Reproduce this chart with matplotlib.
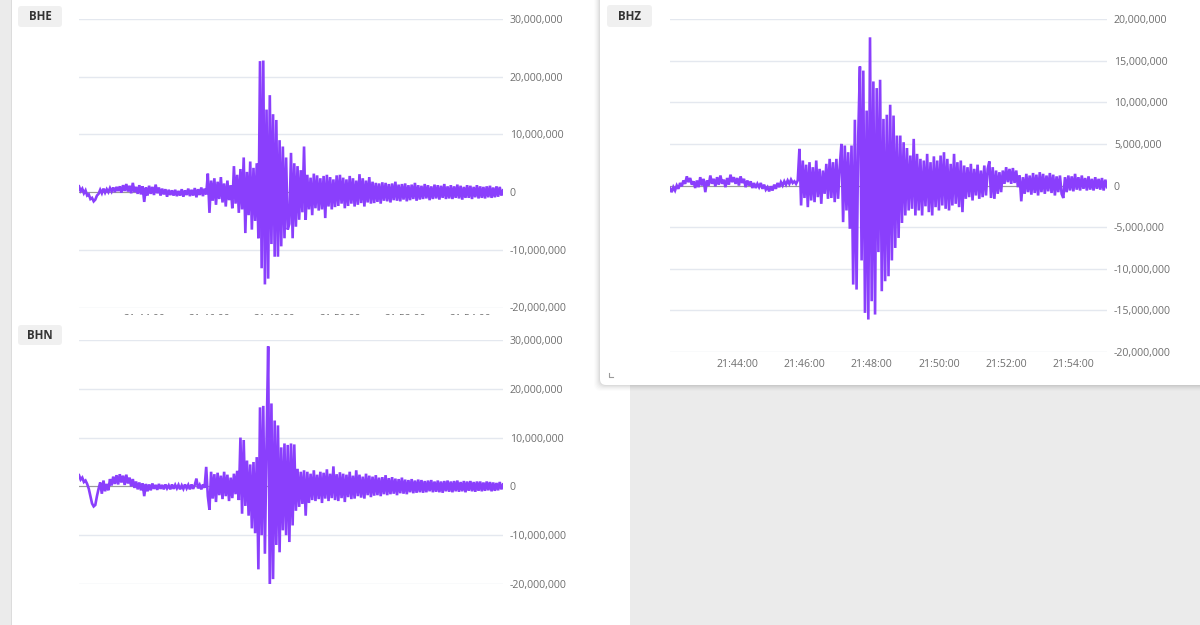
import matplotlib
matplotlib.use("Agg")
import matplotlib.pyplot as plt
import matplotlib.dates as mdates
from matplotlib.patches import FancyBboxPatch, Rectangle
from matplotlib.ticker import FuncFormatter, MultipleLocator
import pandas as pd

plt.rcParams['font.family'] = ['Open Sans', 'DejaVu Sans']

# ---------------- data (values in millions of counts) ----------------
t_start = "2024-01-01 21:42:00"
sample_step = "3s"

bhe = [
    1.0, 0.2, 0.6, -0.2, 0.3, -0.6, -0.4, -1.2, -1.0, -1.6,
    -1.3, -0.6, -0.3, 0.4, -0.2, 0.6, -0.1, 0.5, 0.0, 0.7,
    0.1, 0.8, 0.0, 0.9, 0.2, 1.0, -0.1, 1.2, 0.2, 1.4,
    0.1, 1.1, -0.2, 1.6, 0.0, 0.9, -0.3, 1.2, -0.4, 1.0,
    -1.7, 0.8, -0.6, 1.1, -0.3, 0.9, -0.5, 1.3, -0.2, 0.8,
    -0.6, 0.6, -0.4, 0.5, -0.8, 0.4, -0.5, 0.3, -0.6, 0.4,
    -0.7, 0.2, -0.6, 0.5, -0.8, 0.3, -0.5, 0.6, -0.7, 0.4,
    -0.6, 0.7, -0.9, 0.5, -0.5, 0.8, -0.7, 0.6, -0.4,
    3.2, -3.6, 2.0, -1.5, 2.4, -2.2, 1.8, -1.2, 2.6, -1.8,
    1.5, -2.5, 2.0, -1.4, 1.2, -2.8, 4.5, -2.0, 3.0, -3.6,
    4.0, -3.0, 6.0, -7.1, 3.5, -4.0, 5.3, -6.5, 4.2, -5.0,
    5.0, -8.0, 22.7, -13.2, 22.8, -16.0, 14.3, -15.0, 16.8, -9.0,
    13.5, -11.2, 12.5, -11.2, 9.0, -9.4, 7.9, -8.0, 6.0, -6.5,
    -5.5, 6.8, -8.0, 5.0, -6.0, 4.5, -4.8, 3.8, -3.5, 7.9,
    -4.8, 3.0, -3.0, 2.5, -4.0, 3.2, -2.8, 2.9, -3.2, 2.4,
    -3.0, 2.8, -4.5, 3.0, -2.5, 2.6, -3.0, 2.2, -2.6, 2.9,
    -2.4, 3.0, -2.0, 2.5, -2.8, 2.2, -2.4, 2.8, -2.0, 2.4,
    -2.5, 2.0, -2.2, 3.1, -1.9, 2.4, -2.5, 2.0, -1.8, 2.6,
    -2.0, 1.8, -1.9, 1.6, -1.7, 1.5, -2.0, 1.7, -1.5, 1.6,
    -1.6, 1.4, -1.8, 1.5, -1.4, 1.8, -1.5, 1.3, -1.6, 1.4,
    -1.3, 1.5, -1.6, 1.2, -1.4, 1.3, -1.2, 1.6, -1.5, 1.2,
    -1.3, 1.1, -1.2, 1.4, -1.1, 1.2, -1.4, 1.0, -1.2, 1.3,
    -1.1, 1.2, -1.3, 1.1, -1.0, 1.4, -1.2, 1.0, -1.1, 1.2,
    -1.2, 1.0, -1.0, 1.3, -1.1, 1.1, -1.3, 0.9, -1.0, 1.2,
    -1.0, 1.1, -1.2, 0.9, -0.9, 1.2, -1.1, 1.0, -1.0, 0.9,
    -1.1, 1.0, -0.9, 1.1, -1.0, 0.8, -0.9, 1.0, -0.8, 0.9,
    -0.6, 0.3,
]

bhn = [
    2.3, 1.4, 1.8, 0.9, 1.2, 0.5, -0.5, -2.0, -3.5, -4.1,
    -3.8, -2.0, -0.5, 0.8, -1.5, 1.2, -1.0, 0.5, -0.8, 1.5,
    0.2, 2.0, 0.5, 2.3, 0.4, 2.5, 0.8, 2.2, 0.3, 2.4,
    0.6, 1.8, 0.0, 1.5, -0.3, 1.0, -0.6, 0.8, -0.8, 0.6,
    -2.0, 0.5, -1.0, 0.4, -0.8, 0.6, -0.5, 0.3, -0.7, 0.5,
    -0.5, 0.3, -0.6, 0.4, -0.4, 0.2, -0.6, 0.4, -0.5, 0.3,
    -0.4, 0.3, -0.6, 0.2, -0.5, 0.4, -0.4, 0.3, -0.6, 0.4,
    -0.5, 0.3, 1.6, -0.4, 0.3, -0.6, 0.4, -0.3, 4.0,
    -2.0, -4.8, 3.0, -2.5, 2.5, -3.2, 2.8, -1.8, 2.2, -2.6,
    3.0, -2.0, 2.4, -3.0, 1.8, -2.4, 2.6, -1.6, 3.2, -2.8,
    10.0, -5.6, 9.5, -4.0, 5.3, -6.0, 4.5, -8.6, 5.0, -9.6,
    6.0, -17.0, 16.2, -10.0, 16.5, -13.8, 9.0, 28.7, -21.0, 17.0,
    -19.0, 13.5, -12.0, 12.5, -13.5, 8.0, -9.0, 8.8, -10.0, 8.5,
    -11.4, 8.8, -8.0, 8.6, -5.0, 3.6, -4.2, 3.0, -3.6, 3.3,
    -6.0, 3.0, -3.4, 2.6, -2.8, 3.3, -3.0, 2.4, -2.6, 3.0,
    -3.4, 2.8, -2.5, 3.5, -3.0, 2.6, -2.4, 4.1, -2.8, 2.5,
    -3.0, 2.9, -2.4, 2.6, -3.2, 2.4, -2.2, 3.0, -2.6, 2.2,
    -2.5, 3.3, -2.0, 2.4, -2.3, 2.0, -2.5, 2.6, -1.8, 2.2,
    -2.2, 2.0, -1.9, 2.3, -1.8, 1.8, -2.0, 1.9, -1.6, 2.3,
    -1.8, 1.7, -1.6, 1.9, -1.5, 1.6, -1.8, 1.5, -1.4, 1.8,
    -1.5, 1.4, -1.6, 1.3, -1.2, 1.5, -1.4, 1.2, -1.3, 1.4,
    -1.2, 1.3, -1.3, 1.1, -1.2, 1.2, -1.0, 1.3, -1.2, 1.0,
    -1.1, 1.2, -1.2, 1.0, -1.3, 1.1, -1.0, 1.2, -1.1, 1.0,
    -1.2, 1.1, -1.0, 1.2, -1.1, 0.9, -1.0, 1.1, -1.2, 1.0,
    -0.9, 1.1, -1.0, 0.9, -1.1, 1.0, -0.9, 1.0, -1.0, 0.8,
    -0.9, 1.0, -0.8, 0.9, -1.0, 0.8, -0.9, 0.7, -0.8, 0.9,
    -0.6, 0.4,
]

bhz = [
    -0.3, -0.8, -0.2, -0.6, 0.0, -0.4, 0.3, -0.1, 0.6, 0.2,
    1.1, 0.4, 0.9, 0.1, 0.5, -0.3, 0.6, -0.2, 1.0, 0.0,
    0.8, -0.8, 0.6, 0.0, 1.2, 0.2, 0.8, -0.1, 1.0, 0.1,
    1.2, 0.2, 0.7, -0.2, 0.9, 0.1, 1.3, 0.4, 1.0, 0.2,
    0.9, 0.0, 1.1, 0.3, 0.8, -0.2, 0.6, 0.0, 0.5, -0.3,
    0.3, -0.3, 0.2, -0.2, 0.3, -0.4, 0.1, -0.5, -0.2, -0.7,
    -0.1, -0.6, 0.1, -0.4, 0.3, -0.2, 0.4, 0.0, 0.5, 0.1,
    0.6, 0.2, 0.7, 0.3, 0.5, 0.2, 0.6,
    4.4, -2.4, 3.0, -1.5, 2.5, -2.6, 2.8, -1.8, 2.2, -2.0,
    3.0, -1.4, 2.0, -2.2, 1.8, -1.0, 2.6, -1.6, 3.2, -1.5,
    2.8, -2.0, 3.2, -1.6, 2.4, 5.0, -4.4, 4.8, -3.0, 4.0,
    -5.2, 4.8, -11.9, 7.9, -12.5, 6.0, 14.3, -9.0, 13.8, -15.3,
    9.0, -16.1, 17.8, -13.9, 12.5, -15.5, 11.7, -8.0, 12.7, -12.7,
    8.0, -11.5, 8.5, -10.9, 9.7, -9.0, 8.4, -7.5, 6.0, -6.3,
    6.0, -4.5, 5.2, -3.6, 4.5, -3.0, 3.6, -2.8, 5.6, -3.6,
    3.8, -3.0, 3.2, -3.6, 3.0, -2.5, 3.8, -3.2, 2.8, -3.6,
    3.5, -2.6, 3.0, -3.0, 3.6, -2.4, 4.0, -2.8, 3.2, -3.0,
    2.6, -2.4, 3.8, -2.2, 2.8, -2.6, 3.0, -3.2, 2.4, -1.6,
    2.2, -1.4, 2.6, -1.8, 2.0, -1.2, 2.5, -1.6, 1.8, -1.4,
    2.4, -1.2, 2.0, 2.9, -1.5, 2.2, -1.6, 1.8, -1.0, 1.6,
    -0.8, 1.8, 0.2, 2.2, 0.4, 2.0, 0.2, 2.1, 0.3, 1.8,
    -0.2, 1.2, -1.9, 1.0, -1.0, 1.4, -0.8, 1.2, -1.1, 1.5,
    -0.9, 1.3, -1.2, 1.6, -0.8, 1.4, -1.0, 1.2, -0.7, 1.5,
    -0.9, 1.3, -1.2, 1.1, -0.8, 1.2, -1.0, -1.5, 1.0, -0.8,
    1.2, -0.6, 1.1, -0.7, 1.4, -0.5, 1.0, -0.6, 1.2, -0.4,
    0.9, -0.6, 1.1, -0.5, 0.8, -0.6, 1.0, -0.4, 0.8, -0.5,
    0.9, -0.6, 0.7, -0.2,
]

x_start = "2024-01-01 21:42:00"
x_end = "2024-01-01 21:55:00"

LINE = '#8a3ffc'
GRID = '#e4e8ef'
TICK = '#6f6f6f'
W, H = 1200, 625

fig = plt.figure(figsize=(W / 100, H / 100), dpi=100)
fig.patch.set_facecolor('#ebebeb')


def overlay(z):
    a = fig.add_axes([0, 0, 1, 1], zorder=z)
    a.set_xlim(0, W)
    a.set_ylim(H, 0)
    a.axis('off')
    return a


def px_axes(left, top, right, bottom, z):
    return fig.add_axes([left / W, 1 - bottom / H, (right - left) / W, (bottom - top) / H], zorder=z)


def style(ax, values, ylo, yhi, step, show_x):
    times = pd.date_range(t_start, periods=len(values), freq=sample_step)
    ax.set_facecolor('none')
    ax.axhline(0, color='#9a9a9a', lw=0.8, zorder=1)
    ax.plot(times, [v * 1e6 for v in values], color=LINE, lw=1.9, zorder=2,
            solid_joinstyle='miter')
    ax.set_xlim(pd.Timestamp(x_start), pd.Timestamp(x_end))
    ax.set_ylim(ylo, yhi)
    ax.yaxis.set_major_locator(MultipleLocator(step))
    ax.yaxis.set_major_formatter(FuncFormatter(lambda v, p: f"{int(round(v)):,}"))
    ax.yaxis.tick_right()
    ax.grid(axis='y', color=GRID, lw=1)
    ax.grid(axis='x', visible=False)
    for s in ax.spines.values():
        s.set_visible(False)
    ax.tick_params(axis='y', length=0, pad=5, labelsize=7.6, labelcolor=TICK)
    ax.xaxis.set_major_locator(mdates.MinuteLocator(byminute=range(44, 56, 2)))
    ax.xaxis.set_major_formatter(mdates.DateFormatter('%H:%M:%S'))
    ax.tick_params(axis='x', length=0, pad=5, labelsize=7.6, labelcolor=TICK,
                   labelbottom=show_x)
    ax.set_axisbelow(True)


# background white panel (left)
bg = overlay(-5)
bg.add_patch(Rectangle((11, 0), 619, H, facecolor='white', edgecolor='none'))
bg.add_patch(Rectangle((11, 0), 1.2, H, facecolor='#dcdcdc', edgecolor='none'))

# BHE
ax_e = px_axes(79, 19, 503, 307.5, 0)
style(ax_e, bhe, -20e6, 30e6, 10e6, True)

# cover for the lower panel (clips the BHE time labels)
cov = overlay(1)
cov.add_patch(Rectangle((12, 315.2), 618, H - 315.2, facecolor='white', edgecolor='none'))

# BHN
ax_n = px_axes(79, 340, 503, 584, 2)
style(ax_n, bhn, -20e6, 30e6, 10e6, False)

# BHZ card with soft shadow
card = overlay(3)
for off, a in [(6, 0.012), (5, 0.015), (4, 0.02), (3, 0.025), (2, 0.03), (1, 0.035)]:
    card.add_patch(FancyBboxPatch((600 - off, -10), 610 + off, 395 + off,
                                  boxstyle="round,pad=0,rounding_size=7",
                                  facecolor='#000000', alpha=a, edgecolor='none'))
card.add_patch(FancyBboxPatch((600, -10), 610, 395,
                              boxstyle="round,pad=0,rounding_size=6",
                              facecolor='white', edgecolor='none'))
card.plot([609, 609, 613], [373, 377, 377], color='#9a9a9a', lw=0.8)

ax_z = px_axes(670, 19, 1107, 352, 4)
style(ax_z, bhz, -20e6, 20e6, 5e6, True)

# title tags
tags = overlay(6)
for (x, y, w, h, label) in [(18, 6, 44, 21, 'BHE'), (18, 325, 44, 20, 'BHN'), (607, 5, 45, 22, 'BHZ')]:
    tags.add_patch(FancyBboxPatch((x, y), w, h, boxstyle="round,pad=0,rounding_size=3",
                                  facecolor='#f0f0f0', edgecolor='none'))
    tags.text(x + w / 2, y + h / 2 + 0.5, label, ha='center', va='center',
              fontsize=8.3, fontweight='bold', color='#333333')

fig.savefig('out.png', dpi=100)
